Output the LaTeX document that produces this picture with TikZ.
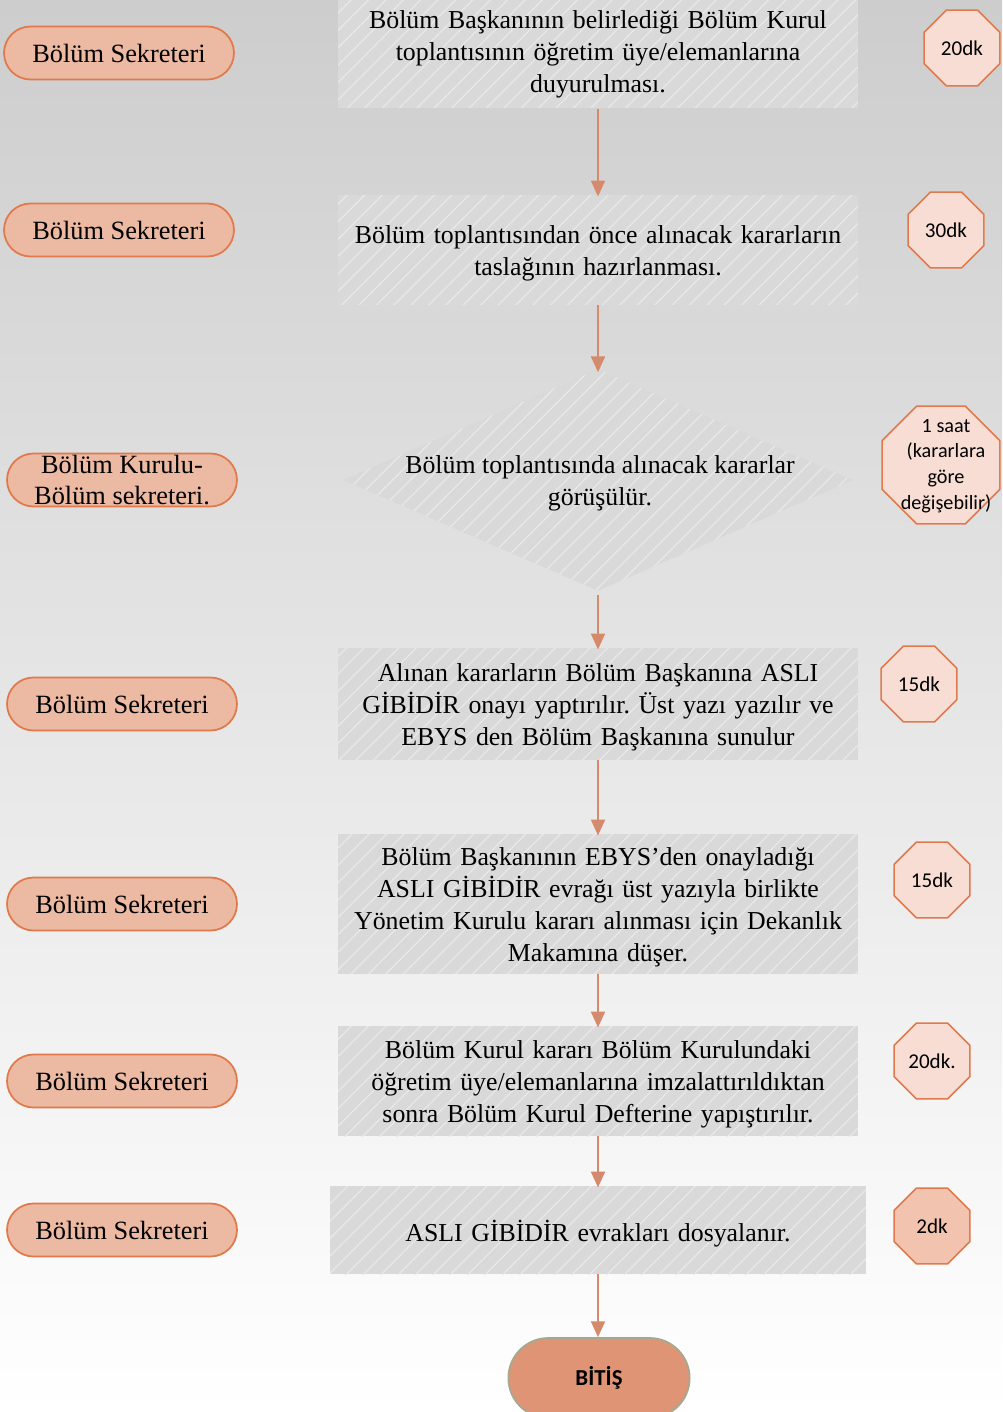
\documentclass[tikz,border=0pt]{standalone}
\usepackage{fontspec}
\setmainfont{Liberation Serif}
\newfontfamily\octfont{Carlito}
\usetikzlibrary{shapes.geometric,shapes.misc,arrows.meta,patterns.meta}
\frenchspacing
\definecolor{bgtop}{HTML}{CDCDCD}
\definecolor{bgbot}{HTML}{FFFFFF}
\definecolor{boxfill}{HTML}{D9D9D9}
\definecolor{stripe}{HTML}{E8E8E8}
\definecolor{pillfill}{HTML}{ECB9A2}
\definecolor{pillline}{HTML}{E07A4C}
\definecolor{octfill}{HTML}{F7DDD3}
\definecolor{octfilltwo}{HTML}{F2C3AE}
\definecolor{arrowc}{HTML}{D58A6B}
\definecolor{endfill}{HTML}{DF9575}
\definecolor{endline}{HTML}{A3A98F}
\newcommand{\lowered}[2]{\raisebox{#1}[\height][\depth]{\parbox{10.2cm}{\centering #2}}}
\tikzset{
  stepbox/.style={rectangle, minimum width=10.4cm, inner sep=0pt, align=center,
    font=\fontsize{14.7}{18.2}\selectfont, text width=10.2cm,
    preaction={fill=boxfill}, pattern={Lines[angle=45,distance=7pt,line width=0.7pt]}, pattern color=stripe},
  pill/.style={rounded rectangle, minimum width=4.6cm, minimum height=1.06cm, inner sep=0pt,
    fill=pillfill, draw=pillline, line width=1pt, align=center,
    font=\fontsize{15}{17.6}\selectfont},
  oct/.style={regular polygon, regular polygon sides=8, minimum size=1.64cm, inner sep=0pt,
    fill=octfill, draw=pillline, line width=0.9pt, font=\octfont\fontsize{12}{14}\selectfont},
  flow/.style={draw=arrowc, line width=1pt, -{Triangle[width=8pt,length=9pt]}},
}
\begin{document}
\begin{tikzpicture}[x=0.02cm,y=-0.02cm]
\useasboundingbox (0,0) rectangle (1002,1412);
\clip (0,0) rectangle (1002,1412);
\shade[top color=bgtop, bottom color=bgbot] (0,0) rectangle (1002,1412);

% process boxes
\node[stepbox, minimum height=2.16cm] (b1) at (598,54) {Bölüm Başkanının belirlediği Bölüm Kurul\\toplantısının öğretim üye/elemanlarına\\duyurulması.};
\node[stepbox, minimum height=2.2cm] (b2) at (598,250) {\lowered{-1.7pt}{Bölüm toplantısından önce alınacak kararların\\taslağının hazırlanması.}};
\node[diamond, minimum width=10.2cm, minimum height=4.44cm, inner sep=0pt,
  preaction={fill=boxfill}, pattern={Lines[angle=45,distance=7pt,line width=0.7pt]}, pattern color=stripe] (b3) at (598,480) {};
\node[align=center, font=\fontsize{14.7}{18.2}\selectfont] (b3t) at (600,483) {Bölüm toplantısında alınacak kararlar\\görüşülür.};
\node[stepbox, minimum height=2.24cm] (b4) at (598,704) {\lowered{-1.7pt}{Alınan kararların Bölüm Başkanına ASLI\\GİBİDİR onayı yaptırılır. Üst yazı yazılır ve\\EBYS den Bölüm Başkanına sunulur}};
\node[stepbox, minimum height=2.8cm] (b5) at (598,904) {\lowered{-1.7pt}{Bölüm Başkanının EBYS’den onayladığı\\ASLI GİBİDİR evrağı üst yazıyla birlikte\\Yönetim Kurulu kararı alınması için Dekanlık\\Makamına düşer.}};
\node[stepbox, minimum height=2.2cm] (b6) at (598,1081) {\lowered{-2pt}{Bölüm Kurul kararı Bölüm Kurulundaki\\öğretim üye/elemanlarına imzalattırıldıktan\\sonra Bölüm Kurul Defterine yapıştırılır.}};
\node[stepbox, minimum height=1.76cm, minimum width=10.72cm] (b7) at (598,1230) {\lowered{-2pt}{ASLI GİBİDİR evrakları dosyalanır.}};
\node[rounded rectangle, minimum width=3.86cm, minimum height=1.6cm, fill=endfill, draw=endline, line width=1pt,
  font=\octfont\bfseries\fontsize{13}{15}\selectfont] (end) at (599,1378) {BİTİŞ};

% arrows
\draw[flow] (b1.south) -- ([yshift=-1pt]b2.north);
\draw[flow] (b2.south) -- ([yshift=-2pt]b3.north);
\draw[flow] ([yshift=-2pt]b3.south) -- ([yshift=-1pt]b4.north);
\draw[flow] (b4.south) -- ([yshift=-1pt]b5.north);
\draw[flow] (b5.south) -- ([yshift=-1pt]b6.north);
\draw[flow] (b6.south) -- ([yshift=-1pt]b7.north);
\draw[flow] (b7.south) -- (b7.south |- end.north);

% left role pills
\node[pill] (p1) at (119,53) {Bölüm Sekreteri};
\node[pill] (p2) at (119,230) {Bölüm Sekreteri};
\node[pill] (p3) at (122,480) {Bölüm Kurulu-\\Bölüm sekreteri.};
\node[pill] (p4) at (122,704) {Bölüm Sekreteri};
\node[pill] (p5) at (122,904) {Bölüm Sekreteri};
\node[pill] (p6) at (122,1081) {Bölüm Sekreteri};
\node[pill] (p7) at (122,1230) {Bölüm Sekreteri};

% time octagons
\node[oct] (o1) at (962,48) {20dk};
\node[oct] (o2) at (946,230) {30dk};
\node[oct, minimum size=2.55cm] (o3) at (941,465) {};
\node[align=center, font=\octfont\fontsize{11.5}{14.6}\selectfont, inner sep=0pt] (o3t) at (946,466) {1 saat\\(kararlara\\göre\\değişebilir)};
\node[oct] (o4) at (919,684) {15dk};
\node[oct] (o5) at (932,880) {15dk};
\node[oct] (o6) at (932,1061) {20dk.};
\node[oct, fill=octfilltwo] (o7) at (932,1226) {2dk};
\end{tikzpicture}
\end{document}
